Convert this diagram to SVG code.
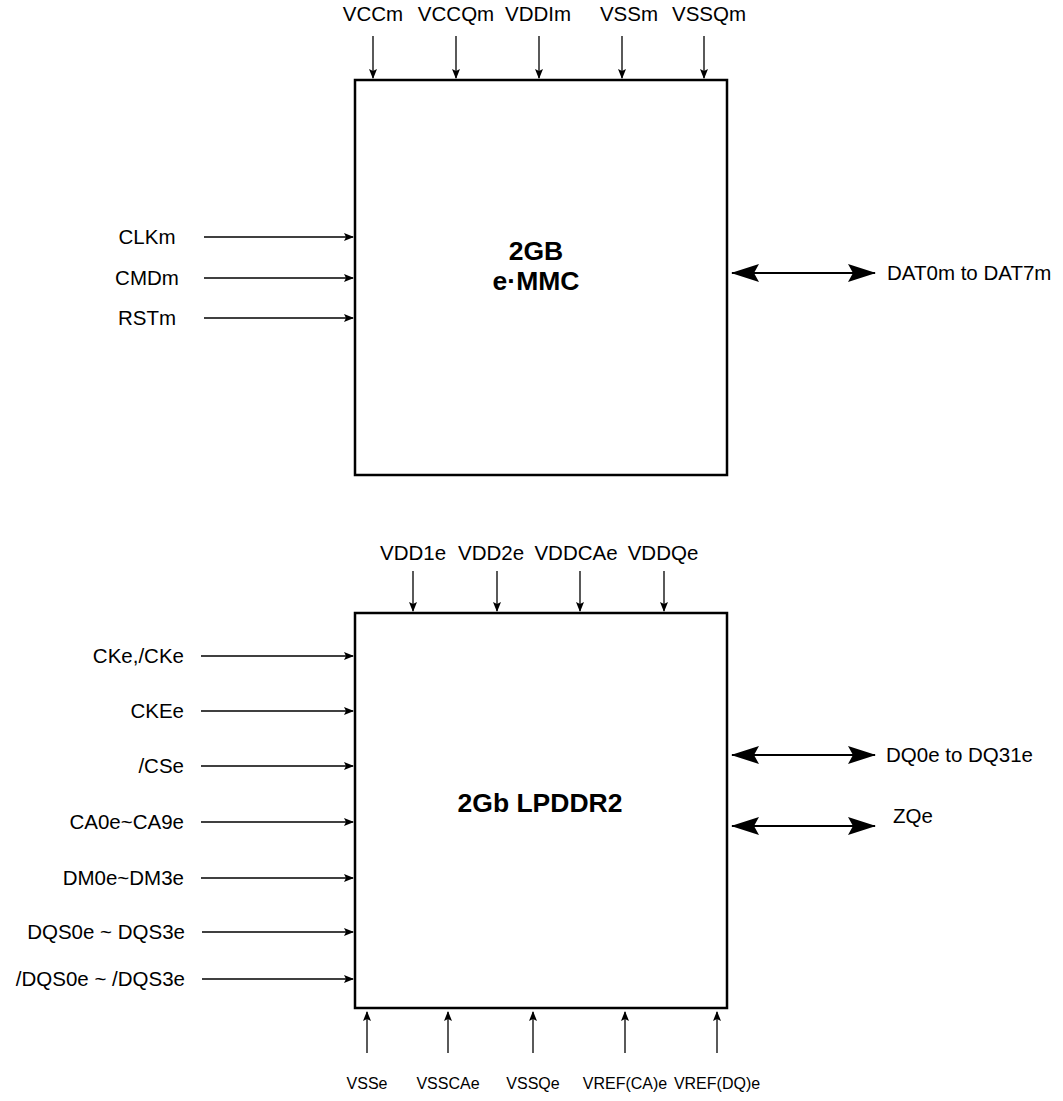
<svg xmlns="http://www.w3.org/2000/svg" width="1063" height="1101" viewBox="0 0 1063 1101">
<style>
text{font-family:"Liberation Sans",Arial,sans-serif;fill:#000}
.lbl{font-size:20.5px}
.sm{font-size:16px;text-anchor:middle}
.mid{text-anchor:middle}
.end{text-anchor:end}
.ttl{font-size:26.5px;font-weight:bold;text-anchor:middle}
.box{fill:#fff;stroke:#000;stroke-width:2.5}
.w{stroke:#000;stroke-width:1.3;fill:none}
.b{stroke:#000;stroke-width:2;fill:none}
</style>
<defs>
<marker id="ah" markerWidth="10" markerHeight="8" refX="9" refY="4" orient="auto" markerUnits="userSpaceOnUse"><path d="M0,0 L10,4 L0,8 L2,4 Z" fill="#000"/></marker>
<marker id="bh" markerWidth="28" markerHeight="18" refX="27" refY="9" orient="auto-start-reverse" markerUnits="userSpaceOnUse"><path d="M0,0 L28,9 L0,18 L5,9 Z" fill="#000"/></marker>
</defs>
<g id="emmc">
<rect class="box" x="355" y="80" width="372" height="395"/>
<text class="ttl" x="536" y="260">2GB</text>
<text class="ttl" x="536" y="290">e·MMC</text>
</g>
<g id="lpddr2">
<rect class="box" x="355" y="613" width="372" height="395"/>
<text class="ttl" x="540" y="812">2Gb LPDDR2</text>
</g>
<g id="labels">
<text class="lbl mid" x="373" y="21">VCCm</text>
<text class="lbl mid" x="456" y="21">VCCQm</text>
<text class="lbl mid" x="538" y="21">VDDIm</text>
<text class="lbl mid" x="629" y="21">VSSm</text>
<text class="lbl mid" x="709" y="21">VSSQm</text>
<text class="lbl mid" x="147" y="244">CLKm</text>
<text class="lbl mid" x="147" y="285">CMDm</text>
<text class="lbl mid" x="147" y="325">RSTm</text>
<text class="lbl" x="887" y="280">DAT0m to DAT7m</text>
<text class="lbl mid" x="413" y="560">VDD1e</text>
<text class="lbl mid" x="491" y="560">VDD2e</text>
<text class="lbl mid" x="576" y="560">VDDCAe</text>
<text class="lbl mid" x="663" y="560">VDDQe</text>
<text class="lbl end" x="184" y="663">CKe,/CKe</text>
<text class="lbl end" x="184" y="718">CKEe</text>
<text class="lbl end" x="184" y="773">/CSe</text>
<text class="lbl end" x="184" y="829">CA0e~CA9e</text>
<text class="lbl end" x="184" y="885">DM0e~DM3e</text>
<text class="lbl end" x="185" y="939">DQS0e ~ DQS3e</text>
<text class="lbl end" x="185" y="986">/DQS0e ~ /DQS3e</text>
<text class="lbl" x="886" y="762">DQ0e to DQ31e</text>
<text class="lbl" x="893" y="823">ZQe</text>
<text class="sm" x="367" y="1089">VSSe</text>
<text class="sm" x="448" y="1089">VSSCAe</text>
<text class="sm" x="533" y="1089">VSSQe</text>
<text class="sm" x="625" y="1089">VREF(CA)e</text>
<text class="sm" x="717" y="1089">VREF(DQ)e</text>
</g>
<g id="connectors">
<line class="w" x1="373" y1="36" x2="373" y2="78" marker-end="url(#ah)"/>
<line class="w" x1="456" y1="36" x2="456" y2="78" marker-end="url(#ah)"/>
<line class="w" x1="539" y1="36" x2="539" y2="78" marker-end="url(#ah)"/>
<line class="w" x1="622" y1="36" x2="622" y2="78" marker-end="url(#ah)"/>
<line class="w" x1="704" y1="36" x2="704" y2="78" marker-end="url(#ah)"/>
<line class="w" x1="204" y1="237" x2="353" y2="237" marker-end="url(#ah)"/>
<line class="w" x1="204" y1="278" x2="353" y2="278" marker-end="url(#ah)"/>
<line class="w" x1="204" y1="318" x2="353" y2="318" marker-end="url(#ah)"/>
<line class="b" x1="732" y1="273" x2="875" y2="273" marker-start="url(#bh)" marker-end="url(#bh)"/>
<line class="w" x1="413" y1="571" x2="413" y2="611" marker-end="url(#ah)"/>
<line class="w" x1="497" y1="571" x2="497" y2="611" marker-end="url(#ah)"/>
<line class="w" x1="580" y1="571" x2="580" y2="611" marker-end="url(#ah)"/>
<line class="w" x1="664" y1="571" x2="664" y2="611" marker-end="url(#ah)"/>
<line class="w" x1="201" y1="656" x2="353" y2="656" marker-end="url(#ah)"/>
<line class="w" x1="201" y1="711" x2="353" y2="711" marker-end="url(#ah)"/>
<line class="w" x1="201" y1="766" x2="353" y2="766" marker-end="url(#ah)"/>
<line class="w" x1="201" y1="822" x2="353" y2="822" marker-end="url(#ah)"/>
<line class="w" x1="201" y1="878" x2="353" y2="878" marker-end="url(#ah)"/>
<line class="w" x1="202" y1="932" x2="353" y2="932" marker-end="url(#ah)"/>
<line class="w" x1="202" y1="979" x2="353" y2="979" marker-end="url(#ah)"/>
<line class="b" x1="732" y1="755" x2="875" y2="755" marker-start="url(#bh)" marker-end="url(#bh)"/>
<line class="b" x1="732" y1="826" x2="875" y2="826" marker-start="url(#bh)" marker-end="url(#bh)"/>
<line class="w" x1="367" y1="1053" x2="367" y2="1012" marker-end="url(#ah)"/>
<line class="w" x1="448" y1="1053" x2="448" y2="1012" marker-end="url(#ah)"/>
<line class="w" x1="533" y1="1053" x2="533" y2="1012" marker-end="url(#ah)"/>
<line class="w" x1="625" y1="1053" x2="625" y2="1012" marker-end="url(#ah)"/>
<line class="w" x1="717" y1="1053" x2="717" y2="1012" marker-end="url(#ah)"/>
</g>
</svg>
